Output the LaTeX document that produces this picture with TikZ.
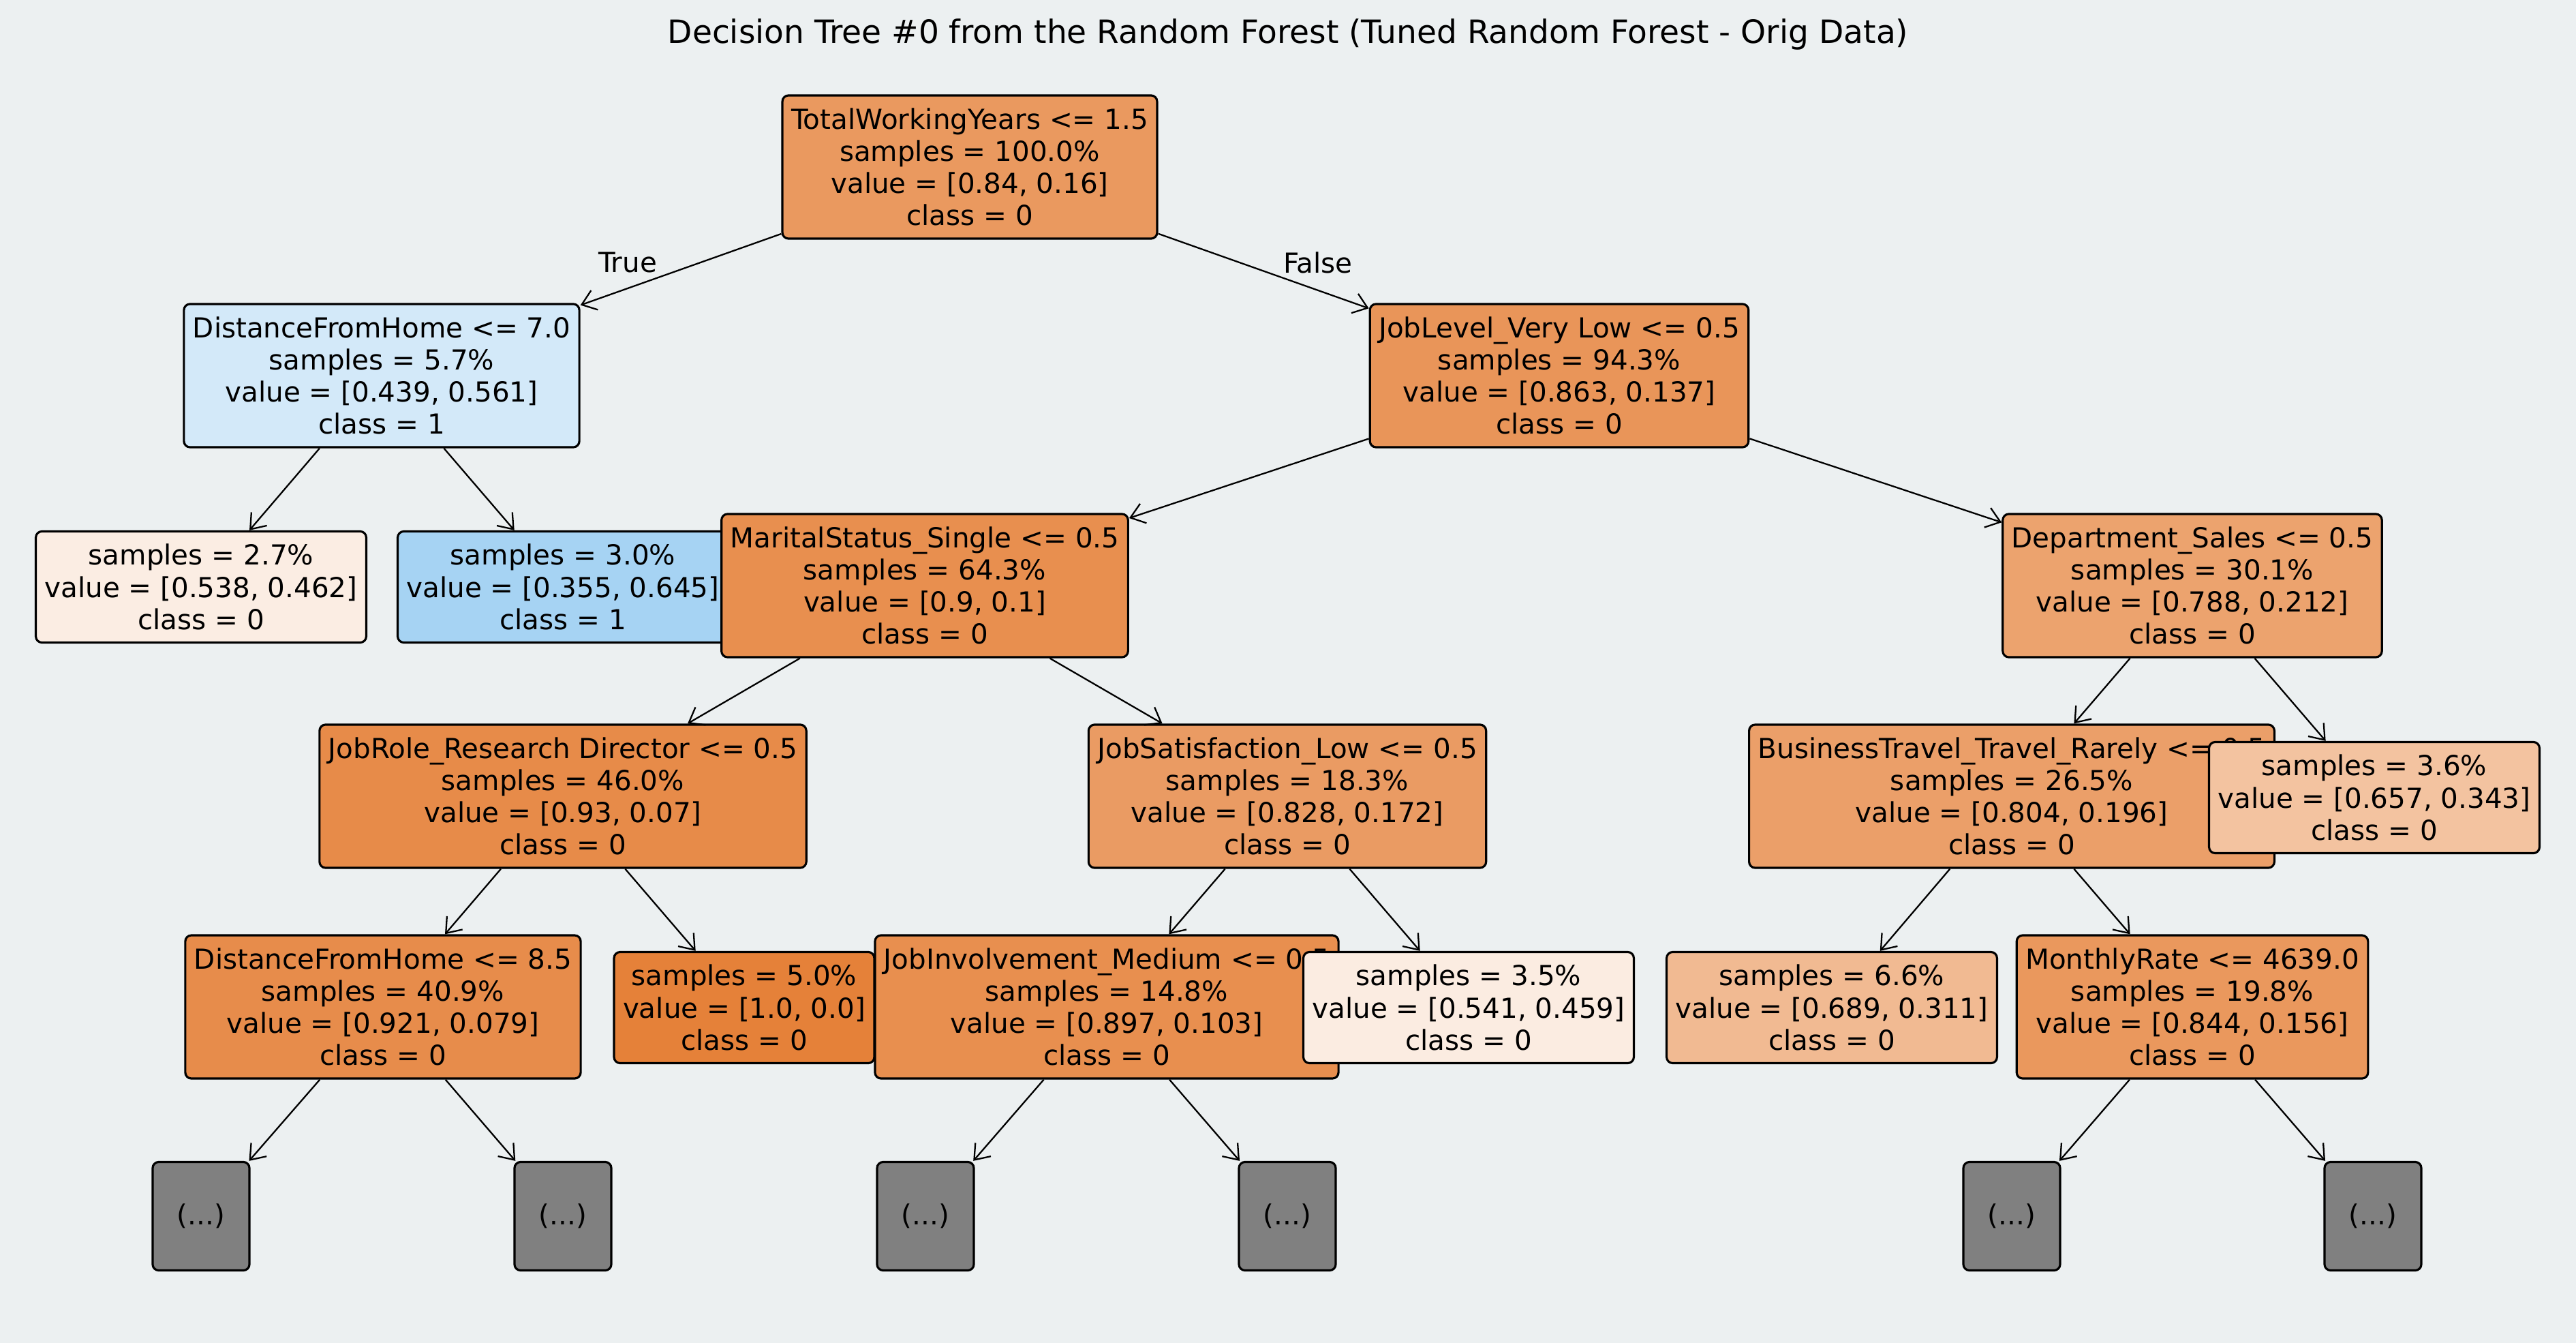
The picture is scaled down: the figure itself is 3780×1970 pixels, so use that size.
\documentclass[tikz,border=0pt]{standalone}
\usepackage{fontspec}
\setmainfont{DejaVu Sans}
\usetikzlibrary{arrows.meta}

\definecolor{leftcls}{RGB}{229,129,57}
\definecolor{rightcls}{RGB}{57,157,229}
\definecolor{canvas}{RGB}{236,240,241}
\definecolor{hidden}{RGB}{128,128,128}

\tikzset{
  treenode/.style={draw=black, line width=0.9pt, rounded corners=0.9mm, align=center,
    inner xsep=3.7pt, inner ysep=2pt, font=\fontsize{11.5}{13.4}\selectfont},
  splitbox/.style={treenode, minimum height=2.1cm},
  leafbox/.style={treenode, minimum height=1.63cm},
  dotsbox/.style={treenode, fill=hidden, minimum width=1.42cm, minimum height=1.59cm},
  branch/.style={-{Straight Barb[length=2mm,width=3mm]}, line width=0.65pt},
  sidelabel/.style={font=\fontsize{11.5}{13.4}\selectfont}
}

\begin{document}
\begin{tikzpicture}[x=0.01cm, y=-0.01cm]
\fill[canvas] (0,0) rectangle (3780,1970);
\node[font=\fontsize{13.4}{16}\selectfont] (title) at (1890,51)
  {Decision Tree \#0 from the Random Forest (Tuned Random Forest - Orig Data)};

% nodes in the order the tree is walked
\node[splitbox, fill=leftcls!81!white] (twy) at (1423,245)
  {TotalWorkingYears <= 1.5\\samples = 100.0\%\\value = [0.84, 0.16]\\class = 0};
\node[splitbox, fill=rightcls!22!white] (dfh7) at (560,551)
  {DistanceFromHome <= 7.0\\samples = 5.7\%\\value = [0.439, 0.561]\\class = 1};
\node[leafbox, fill=leftcls!14!white] (l27) at (295,861)
  {samples = 2.7\%\\value = [0.538, 0.462]\\class = 0};
\node[leafbox, fill=rightcls!45!white] (l30) at (826,861)
  {samples = 3.0\%\\value = [0.355, 0.645]\\class = 1};
\node[splitbox, fill=leftcls!84!white] (jlvl) at (2288,551)
  {JobLevel\_Very Low <= 0.5\\samples = 94.3\%\\value = [0.863, 0.137]\\class = 0};
\node[splitbox, fill=leftcls!89!white] (mss) at (1357,859)
  {MaritalStatus\_Single <= 0.5\\samples = 64.3\%\\value = [0.9, 0.1]\\class = 0};
\node[splitbox, fill=leftcls!92!white] (jrrd) at (826,1168)
  {JobRole\_Research Director <= 0.5\\samples = 46.0\%\\value = [0.93, 0.07]\\class = 0};
\node[splitbox, fill=leftcls!91!white] (dfh85) at (562,1477)
  {DistanceFromHome <= 8.5\\samples = 40.9\%\\value = [0.921, 0.079]\\class = 0};
\node[dotsbox] (d1) at (295,1784) {(...)};
\node[dotsbox] (d2) at (826,1784) {(...)};
\node[leafbox, fill=leftcls] (l50) at (1092,1478)
  {samples = 5.0\%\\value = [1.0, 0.0]\\class = 0};
\node[splitbox, fill=leftcls!79!white] (jsl) at (1889,1168)
  {JobSatisfaction\_Low <= 0.5\\samples = 18.3\%\\value = [0.828, 0.172]\\class = 0};
\node[splitbox, fill=leftcls!89!white] (jim) at (1624,1477)
  {JobInvolvement\_Medium <= 0.5\\samples = 14.8\%\\value = [0.897, 0.103]\\class = 0};
\node[dotsbox] (d3) at (1358,1784) {(...)};
\node[dotsbox] (d4) at (1889,1784) {(...)};
\node[leafbox, fill=leftcls!15!white] (l35) at (2155,1478)
  {samples = 3.5\%\\value = [0.541, 0.459]\\class = 0};
\node[splitbox, fill=leftcls!73!white] (dsal) at (3217,859)
  {Department\_Sales <= 0.5\\samples = 30.1\%\\value = [0.788, 0.212]\\class = 0};
\node[splitbox, fill=leftcls!76!white] (btr) at (2952,1168)
  {BusinessTravel\_Travel\_Rarely <= 0.5\\samples = 26.5\%\\value = [0.804, 0.196]\\class = 0};
\node[leafbox, fill=leftcls!55!white] (l66) at (2688,1478)
  {samples = 6.6\%\\value = [0.689, 0.311]\\class = 0};
\node[splitbox, fill=leftcls!82!white] (mrt) at (3217,1477)
  {MonthlyRate <= 4639.0\\samples = 19.8\%\\value = [0.844, 0.156]\\class = 0};
\node[dotsbox] (d5) at (2952,1784) {(...)};
\node[dotsbox] (d6) at (3482,1784) {(...)};
\node[leafbox, fill=leftcls!48!white] (l36) at (3484,1170)
  {samples = 3.6\%\\value = [0.657, 0.343]\\class = 0};

% branches
\foreach \from/\to in {twy/dfh7, twy/jlvl, dfh7/l27, dfh7/l30, jlvl/mss, jlvl/dsal,
    mss/jrrd, mss/jsl, jrrd/dfh85, jrrd/l50, dfh85/d1, dfh85/d2, jsl/jim, jsl/l35,
    jim/d3, jim/d4, dsal/btr, dsal/l36, btr/l66, btr/mrt, mrt/d5, mrt/d6}
  \draw[branch] (\from) -- (\to);

\node[sidelabel] (truelbl) at (921,385) {True};
\node[sidelabel] (falselbl) at (1934,385) {False};
\end{tikzpicture}
\end{document}
